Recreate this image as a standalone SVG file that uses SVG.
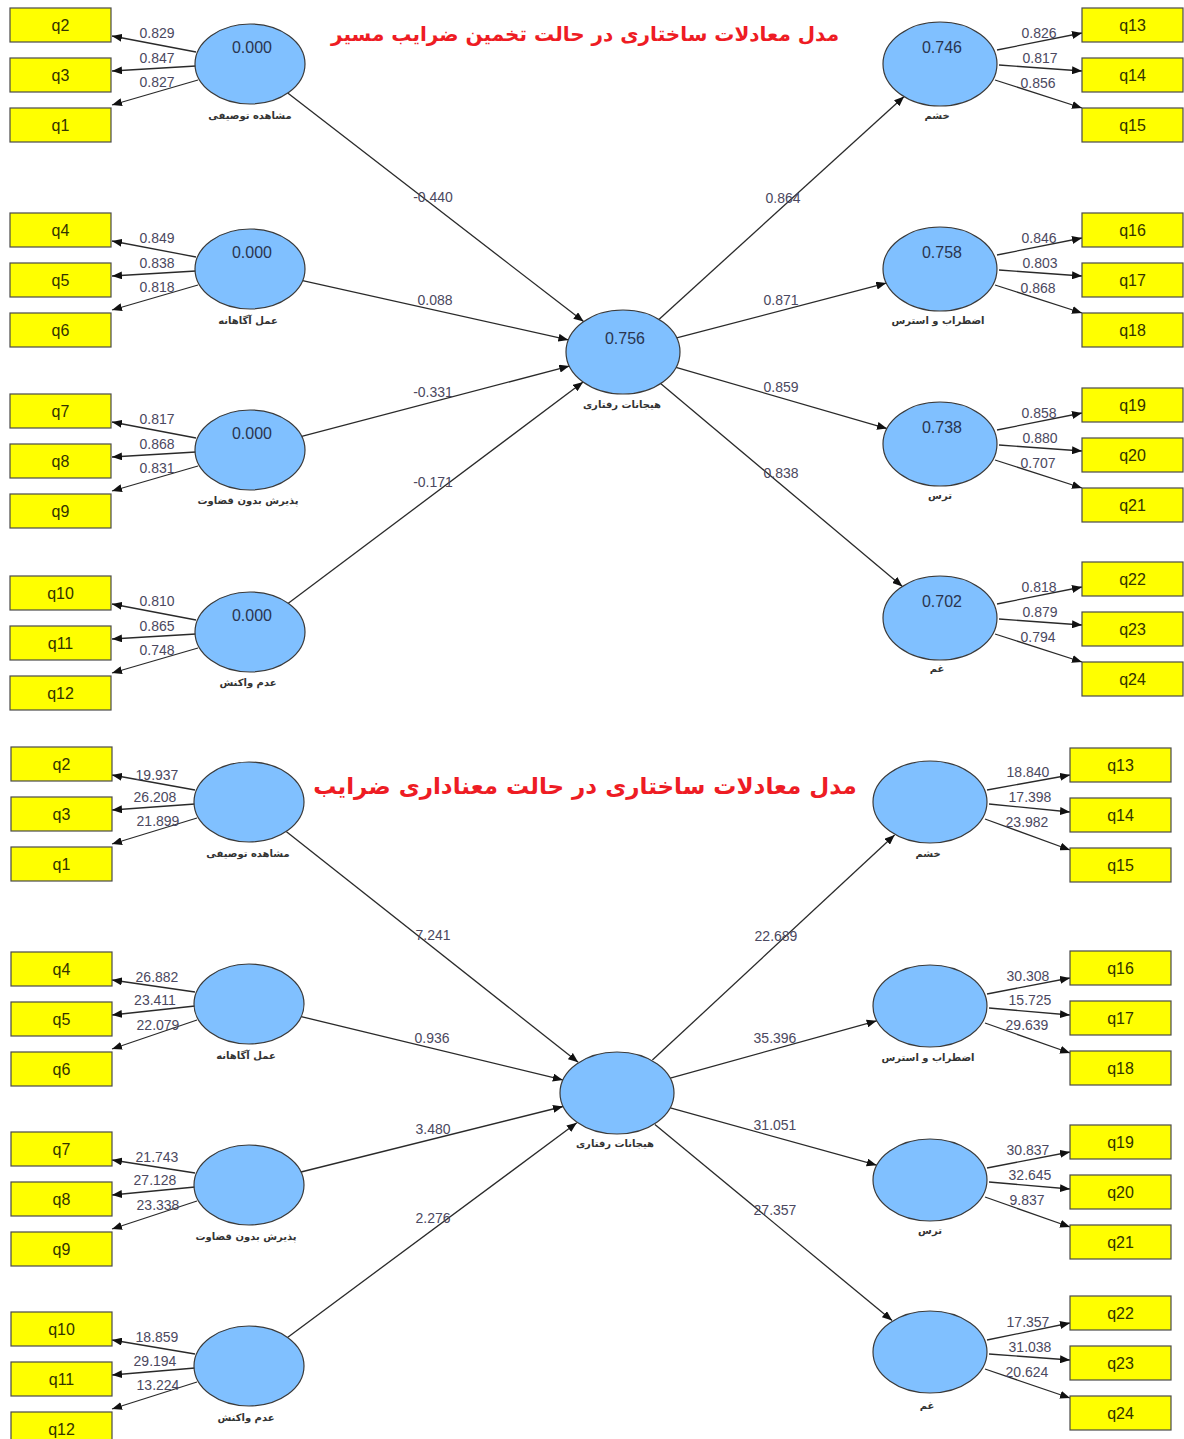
<svg xmlns="http://www.w3.org/2000/svg" width="1184" height="1439" viewBox="0 0 1184 1439">
<style>
.bg{fill:#ffffff}
.box{fill:#ffff00;stroke:#4a4a4a;stroke-width:1.2}
.bt{font-family:"Liberation Sans",Arial,sans-serif;font-size:16px;fill:#333300;text-anchor:middle}
.ell{fill:#80c0ff;stroke:#3a3a3a;stroke-width:1.2}
.val{font-family:"Liberation Sans",Arial,sans-serif;font-size:16px;fill:#2a3550;text-anchor:middle}
.lv{font-family:"DejaVu Sans",sans-serif;font-size:10px;font-weight:bold;fill:#333333;text-anchor:middle}
.ln{stroke:#2a2a2a;stroke-width:1.3;fill:none;marker-end:url(#ah)}
.num{font-family:"Liberation Sans",Arial,sans-serif;font-size:14px;fill:#4b4860;text-anchor:middle}
.ttl{font-family:"DejaVu Sans",sans-serif;font-weight:bold;fill:#ee1c24;text-anchor:middle}
</style>
<defs>
<marker id="ah" viewBox="0 0 10 8" refX="10" refY="4" markerWidth="10" markerHeight="8" markerUnits="userSpaceOnUse" orient="auto">
<path d="M0,0 L10,4 L0,8 z" fill="#111111"/>
</marker>
</defs>
<rect class="bg" x="0" y="0" width="1184" height="1439"/>

<text class="ttl" x="585" y="41" font-size="20" direction="rtl">مدل معادلات ساختاری در حالت تخمین ضرایب مسیر</text>
<text class="ttl" x="585" y="794" font-size="23" direction="rtl">مدل معادلات ساختاری در حالت معناداری ضرایب</text>

<g id="connectors">
<line class="ln" x1="196" y1="52" x2="112" y2="36"/>
<line class="ln" x1="196" y1="66" x2="112" y2="71"/>
<line class="ln" x1="198" y1="80" x2="112" y2="105"/>
<line class="ln" x1="196" y1="257" x2="112" y2="241"/>
<line class="ln" x1="196" y1="271" x2="112" y2="276"/>
<line class="ln" x1="198" y1="285" x2="112" y2="310"/>
<line class="ln" x1="196" y1="438" x2="112" y2="422"/>
<line class="ln" x1="196" y1="452" x2="112" y2="457"/>
<line class="ln" x1="198" y1="466" x2="112" y2="491"/>
<line class="ln" x1="196" y1="620" x2="112" y2="604"/>
<line class="ln" x1="196" y1="634" x2="112" y2="639"/>
<line class="ln" x1="198" y1="648" x2="112" y2="673"/>
<line class="ln" x1="997" y1="50" x2="1082" y2="33"/>
<line class="ln" x1="999" y1="65" x2="1082" y2="71"/>
<line class="ln" x1="995" y1="80" x2="1082" y2="108"/>
<line class="ln" x1="997" y1="255" x2="1082" y2="238"/>
<line class="ln" x1="999" y1="270" x2="1082" y2="276"/>
<line class="ln" x1="995" y1="285" x2="1082" y2="313"/>
<line class="ln" x1="997" y1="430" x2="1082" y2="413"/>
<line class="ln" x1="999" y1="445" x2="1082" y2="451"/>
<line class="ln" x1="995" y1="460" x2="1082" y2="488"/>
<line class="ln" x1="997" y1="604" x2="1082" y2="587"/>
<line class="ln" x1="999" y1="619" x2="1082" y2="625"/>
<line class="ln" x1="995" y1="634" x2="1082" y2="662"/>
<line class="ln" x1="287.7" y1="93.1" x2="583.6" y2="321.6"/>
<line class="ln" x1="302.6" y1="280.7" x2="568.4" y2="339.9"/>
<line class="ln" x1="301.7" y1="436.4" x2="569.3" y2="366.1"/>
<line class="ln" x1="288.3" y1="603.3" x2="583.1" y2="382"/>
<line class="ln" x1="658.9" y1="319.4" x2="904.1" y2="96.6"/>
<line class="ln" x1="676.7" y1="337.9" x2="886.3" y2="283.1"/>
<line class="ln" x1="676" y1="367.4" x2="887" y2="428.6"/>
<line class="ln" x1="660.6" y1="383.6" x2="902.4" y2="586.4"/>
<line class="ln" x1="195" y1="790" x2="112" y2="775"/>
<line class="ln" x1="195" y1="804" x2="112" y2="810"/>
<line class="ln" x1="197" y1="818" x2="112" y2="844"/>
<line class="ln" x1="195" y1="992" x2="112" y2="980"/>
<line class="ln" x1="195" y1="1006" x2="112" y2="1015"/>
<line class="ln" x1="197" y1="1020" x2="112" y2="1049"/>
<line class="ln" x1="195" y1="1173" x2="112" y2="1160"/>
<line class="ln" x1="195" y1="1187" x2="112" y2="1195"/>
<line class="ln" x1="197" y1="1201" x2="112" y2="1229"/>
<line class="ln" x1="195" y1="1354" x2="112" y2="1340"/>
<line class="ln" x1="195" y1="1368" x2="112" y2="1375"/>
<line class="ln" x1="197" y1="1382" x2="112" y2="1409"/>
<line class="ln" x1="987" y1="790" x2="1070" y2="775"/>
<line class="ln" x1="989" y1="804" x2="1070" y2="812"/>
<line class="ln" x1="985" y1="819" x2="1070" y2="850"/>
<line class="ln" x1="987" y1="994" x2="1070" y2="978"/>
<line class="ln" x1="989" y1="1008" x2="1070" y2="1015"/>
<line class="ln" x1="985" y1="1023" x2="1070" y2="1053"/>
<line class="ln" x1="987" y1="1168" x2="1070" y2="1152"/>
<line class="ln" x1="989" y1="1182" x2="1070" y2="1189"/>
<line class="ln" x1="985" y1="1197" x2="1070" y2="1227"/>
<line class="ln" x1="987" y1="1340" x2="1070" y2="1323"/>
<line class="ln" x1="989" y1="1354" x2="1070" y2="1360"/>
<line class="ln" x1="985" y1="1369" x2="1070" y2="1398"/>
<line class="ln" x1="286.2" y1="831.4" x2="578.2" y2="1062.3"/>
<line class="ln" x1="301.2" y1="1016.6" x2="562.8" y2="1079.9"/>
<line class="ln" x1="301" y1="1172" x2="563" y2="1106.5"/>
<line class="ln" x1="287.5" y1="1337.4" x2="576.8" y2="1122.8"/>
<line class="ln" x1="652.4" y1="1060.1" x2="894.6" y2="834.9"/>
<line class="ln" x1="670.3" y1="1078.2" x2="876.7" y2="1020.8"/>
<line class="ln" x1="670.3" y1="1107.8" x2="876.7" y2="1165.2"/>
<line class="ln" x1="654.9" y1="1124.4" x2="892.1" y2="1320.6"/>

<text class="num" x="157" y="38">0.829</text>
<text class="num" x="157" y="63">0.847</text>
<text class="num" x="157" y="87">0.827</text>
<text class="num" x="157" y="243">0.849</text>
<text class="num" x="157" y="268">0.838</text>
<text class="num" x="157" y="292">0.818</text>
<text class="num" x="157" y="424">0.817</text>
<text class="num" x="157" y="449">0.868</text>
<text class="num" x="157" y="473">0.831</text>
<text class="num" x="157" y="606">0.810</text>
<text class="num" x="157" y="631">0.865</text>
<text class="num" x="157" y="655">0.748</text>
<text class="num" x="1039" y="38">0.826</text>
<text class="num" x="1040" y="63">0.817</text>
<text class="num" x="1038" y="88">0.856</text>
<text class="num" x="1039" y="243">0.846</text>
<text class="num" x="1040" y="268">0.803</text>
<text class="num" x="1038" y="293">0.868</text>
<text class="num" x="1039" y="418">0.858</text>
<text class="num" x="1040" y="443">0.880</text>
<text class="num" x="1038" y="468">0.707</text>
<text class="num" x="1039" y="592">0.818</text>
<text class="num" x="1040" y="617">0.879</text>
<text class="num" x="1038" y="642">0.794</text>
<text class="num" x="433" y="202">-0.440</text>
<text class="num" x="435" y="305">0.088</text>
<text class="num" x="433" y="397">-0.331</text>
<text class="num" x="433" y="487">-0.171</text>
<text class="num" x="783" y="203">0.864</text>
<text class="num" x="781" y="305">0.871</text>
<text class="num" x="781" y="392">0.859</text>
<text class="num" x="781" y="478">0.838</text>
<text class="num" x="157" y="780">19.937</text>
<text class="num" x="155" y="802">26.208</text>
<text class="num" x="158" y="826">21.899</text>
<text class="num" x="157" y="982">26.882</text>
<text class="num" x="155" y="1005">23.411</text>
<text class="num" x="158" y="1030">22.079</text>
<text class="num" x="157" y="1162">21.743</text>
<text class="num" x="155" y="1185">27.128</text>
<text class="num" x="158" y="1210">23.338</text>
<text class="num" x="157" y="1342">18.859</text>
<text class="num" x="155" y="1366">29.194</text>
<text class="num" x="158" y="1390">13.224</text>
<text class="num" x="1028" y="777">18.840</text>
<text class="num" x="1030" y="802">17.398</text>
<text class="num" x="1027" y="827">23.982</text>
<text class="num" x="1028" y="981">30.308</text>
<text class="num" x="1030" y="1005">15.725</text>
<text class="num" x="1027" y="1030">29.639</text>
<text class="num" x="1028" y="1155">30.837</text>
<text class="num" x="1030" y="1180">32.645</text>
<text class="num" x="1027" y="1205">9.837</text>
<text class="num" x="1028" y="1327">17.357</text>
<text class="num" x="1030" y="1352">31.038</text>
<text class="num" x="1027" y="1377">20.624</text>
<text class="num" x="433" y="940">7.241</text>
<text class="num" x="432" y="1043">0.936</text>
<text class="num" x="433" y="1134">3.480</text>
<text class="num" x="433" y="1223">2.276</text>
<text class="num" x="776" y="941">22.689</text>
<text class="num" x="775" y="1043">35.396</text>
<text class="num" x="775" y="1130">31.051</text>
<text class="num" x="775" y="1215">27.357</text>
</g>

<g id="t_q2"><rect class="box" x="10" y="8" width="101" height="34"/><text class="bt" x="60.5" y="31">q2</text></g>
<g id="t_q3"><rect class="box" x="10" y="58" width="101" height="34"/><text class="bt" x="60.5" y="81">q3</text></g>
<g id="t_q1"><rect class="box" x="10" y="108" width="101" height="34"/><text class="bt" x="60.5" y="131">q1</text></g>
<g id="t_q4"><rect class="box" x="10" y="213" width="101" height="34"/><text class="bt" x="60.5" y="236">q4</text></g>
<g id="t_q5"><rect class="box" x="10" y="263" width="101" height="34"/><text class="bt" x="60.5" y="286">q5</text></g>
<g id="t_q6"><rect class="box" x="10" y="313" width="101" height="34"/><text class="bt" x="60.5" y="336">q6</text></g>
<g id="t_q7"><rect class="box" x="10" y="394" width="101" height="34"/><text class="bt" x="60.5" y="417">q7</text></g>
<g id="t_q8"><rect class="box" x="10" y="444" width="101" height="34"/><text class="bt" x="60.5" y="467">q8</text></g>
<g id="t_q9"><rect class="box" x="10" y="494" width="101" height="34"/><text class="bt" x="60.5" y="517">q9</text></g>
<g id="t_q10"><rect class="box" x="10" y="576" width="101" height="34"/><text class="bt" x="60.5" y="599">q10</text></g>
<g id="t_q11"><rect class="box" x="10" y="626" width="101" height="34"/><text class="bt" x="60.5" y="649">q11</text></g>
<g id="t_q12"><rect class="box" x="10" y="676" width="101" height="34"/><text class="bt" x="60.5" y="699">q12</text></g>

<g id="t_q13"><rect class="box" x="1082" y="8" width="101" height="34"/><text class="bt" x="1132.5" y="31">q13</text></g>
<g id="t_q14"><rect class="box" x="1082" y="58" width="101" height="34"/><text class="bt" x="1132.5" y="81">q14</text></g>
<g id="t_q15"><rect class="box" x="1082" y="108" width="101" height="34"/><text class="bt" x="1132.5" y="131">q15</text></g>
<g id="t_q16"><rect class="box" x="1082" y="213" width="101" height="34"/><text class="bt" x="1132.5" y="236">q16</text></g>
<g id="t_q17"><rect class="box" x="1082" y="263" width="101" height="34"/><text class="bt" x="1132.5" y="286">q17</text></g>
<g id="t_q18"><rect class="box" x="1082" y="313" width="101" height="34"/><text class="bt" x="1132.5" y="336">q18</text></g>
<g id="t_q19"><rect class="box" x="1082" y="388" width="101" height="34"/><text class="bt" x="1132.5" y="411">q19</text></g>
<g id="t_q20"><rect class="box" x="1082" y="438" width="101" height="34"/><text class="bt" x="1132.5" y="461">q20</text></g>
<g id="t_q21"><rect class="box" x="1082" y="488" width="101" height="34"/><text class="bt" x="1132.5" y="511">q21</text></g>
<g id="t_q22"><rect class="box" x="1082" y="562" width="101" height="34"/><text class="bt" x="1132.5" y="585">q22</text></g>
<g id="t_q23"><rect class="box" x="1082" y="612" width="101" height="34"/><text class="bt" x="1132.5" y="635">q23</text></g>
<g id="t_q24"><rect class="box" x="1082" y="662" width="101" height="34"/><text class="bt" x="1132.5" y="685">q24</text></g>

<g id="t_observe"><ellipse class="ell" cx="250" cy="64" rx="55" ry="40"/><text class="val" x="252" y="53">0.000</text><text class="lv" x="250" y="119">مشاهده توصیفی</text></g>
<g id="t_aware"><ellipse class="ell" cx="250" cy="269" rx="55" ry="40"/><text class="val" x="252" y="258">0.000</text><text class="lv" x="248" y="324">عمل آگاهانه</text></g>
<g id="t_accept"><ellipse class="ell" cx="250" cy="450" rx="55" ry="40"/><text class="val" x="252" y="439">0.000</text><text class="lv" x="248" y="504">پذیرش بدون قضاوت</text></g>
<g id="t_nonreact"><ellipse class="ell" cx="250" cy="632" rx="55" ry="40"/><text class="val" x="252" y="621">0.000</text><text class="lv" x="248" y="686">عدم واکنش</text></g>
<g id="t_emotion"><ellipse class="ell" cx="623" cy="352" rx="57" ry="42"/><text class="val" x="625" y="344">0.756</text><text class="lv" x="622" y="408">هیجانات رفتاری</text></g>
<g id="t_anger"><ellipse class="ell" cx="940" cy="64" rx="57" ry="42"/><text class="val" x="942" y="53">0.746</text><text class="lv" x="937" y="119">خشم</text></g>
<g id="t_anxiety"><ellipse class="ell" cx="940" cy="269" rx="57" ry="42"/><text class="val" x="942" y="258">0.758</text><text class="lv" x="938" y="324">اضطراب و استرس</text></g>
<g id="t_fear"><ellipse class="ell" cx="940" cy="444" rx="57" ry="42"/><text class="val" x="942" y="433">0.738</text><text class="lv" x="940" y="499">ترس</text></g>
<g id="t_sad"><ellipse class="ell" cx="940" cy="618" rx="57" ry="42"/><text class="val" x="942" y="607">0.702</text><text class="lv" x="937" y="672">غم</text></g>

<g id="b_q2"><rect class="box" x="11" y="747" width="101" height="34"/><text class="bt" x="61.5" y="770">q2</text></g>
<g id="b_q3"><rect class="box" x="11" y="797" width="101" height="34"/><text class="bt" x="61.5" y="820">q3</text></g>
<g id="b_q1"><rect class="box" x="11" y="847" width="101" height="34"/><text class="bt" x="61.5" y="870">q1</text></g>
<g id="b_q4"><rect class="box" x="11" y="952" width="101" height="34"/><text class="bt" x="61.5" y="975">q4</text></g>
<g id="b_q5"><rect class="box" x="11" y="1002" width="101" height="34"/><text class="bt" x="61.5" y="1025">q5</text></g>
<g id="b_q6"><rect class="box" x="11" y="1052" width="101" height="34"/><text class="bt" x="61.5" y="1075">q6</text></g>
<g id="b_q7"><rect class="box" x="11" y="1132" width="101" height="34"/><text class="bt" x="61.5" y="1155">q7</text></g>
<g id="b_q8"><rect class="box" x="11" y="1182" width="101" height="34"/><text class="bt" x="61.5" y="1205">q8</text></g>
<g id="b_q9"><rect class="box" x="11" y="1232" width="101" height="34"/><text class="bt" x="61.5" y="1255">q9</text></g>
<g id="b_q10"><rect class="box" x="11" y="1312" width="101" height="34"/><text class="bt" x="61.5" y="1335">q10</text></g>
<g id="b_q11"><rect class="box" x="11" y="1362" width="101" height="34"/><text class="bt" x="61.5" y="1385">q11</text></g>
<g id="b_q12"><rect class="box" x="11" y="1412" width="101" height="34"/><text class="bt" x="61.5" y="1435">q12</text></g>

<g id="b_q13"><rect class="box" x="1070" y="748" width="101" height="34"/><text class="bt" x="1120.5" y="771">q13</text></g>
<g id="b_q14"><rect class="box" x="1070" y="798" width="101" height="34"/><text class="bt" x="1120.5" y="821">q14</text></g>
<g id="b_q15"><rect class="box" x="1070" y="848" width="101" height="34"/><text class="bt" x="1120.5" y="871">q15</text></g>
<g id="b_q16"><rect class="box" x="1070" y="951" width="101" height="34"/><text class="bt" x="1120.5" y="974">q16</text></g>
<g id="b_q17"><rect class="box" x="1070" y="1001" width="101" height="34"/><text class="bt" x="1120.5" y="1024">q17</text></g>
<g id="b_q18"><rect class="box" x="1070" y="1051" width="101" height="34"/><text class="bt" x="1120.5" y="1074">q18</text></g>
<g id="b_q19"><rect class="box" x="1070" y="1125" width="101" height="34"/><text class="bt" x="1120.5" y="1148">q19</text></g>
<g id="b_q20"><rect class="box" x="1070" y="1175" width="101" height="34"/><text class="bt" x="1120.5" y="1198">q20</text></g>
<g id="b_q21"><rect class="box" x="1070" y="1225" width="101" height="34"/><text class="bt" x="1120.5" y="1248">q21</text></g>
<g id="b_q22"><rect class="box" x="1070" y="1296" width="101" height="34"/><text class="bt" x="1120.5" y="1319">q22</text></g>
<g id="b_q23"><rect class="box" x="1070" y="1346" width="101" height="34"/><text class="bt" x="1120.5" y="1369">q23</text></g>
<g id="b_q24"><rect class="box" x="1070" y="1396" width="101" height="34"/><text class="bt" x="1120.5" y="1419">q24</text></g>

<g id="b_observe"><ellipse class="ell" cx="249" cy="802" rx="55" ry="40"/><text class="lv" x="248" y="857">مشاهده توصیفی</text></g>
<g id="b_aware"><ellipse class="ell" cx="249" cy="1004" rx="55" ry="40"/><text class="lv" x="246" y="1059">عمل آگاهانه</text></g>
<g id="b_accept"><ellipse class="ell" cx="249" cy="1185" rx="55" ry="40"/><text class="lv" x="246" y="1240">پذیرش بدون قضاوت</text></g>
<g id="b_nonreact"><ellipse class="ell" cx="249" cy="1366" rx="55" ry="40"/><text class="lv" x="246" y="1421">عدم واکنش</text></g>
<g id="b_emotion"><ellipse class="ell" cx="617" cy="1093" rx="57" ry="41"/><text class="lv" x="615" y="1147">هیجانات رفتاری</text></g>
<g id="b_anger"><ellipse class="ell" cx="930" cy="802" rx="57" ry="41"/><text class="lv" x="928" y="857">خشم</text></g>
<g id="b_anxiety"><ellipse class="ell" cx="930" cy="1006" rx="57" ry="41"/><text class="lv" x="928" y="1061">اضطراب و استرس</text></g>
<g id="b_fear"><ellipse class="ell" cx="930" cy="1180" rx="57" ry="41"/><text class="lv" x="930" y="1234">ترس</text></g>
<g id="b_sad"><ellipse class="ell" cx="930" cy="1352" rx="57" ry="41"/><text class="lv" x="927" y="1409">غم</text></g>
</svg>
